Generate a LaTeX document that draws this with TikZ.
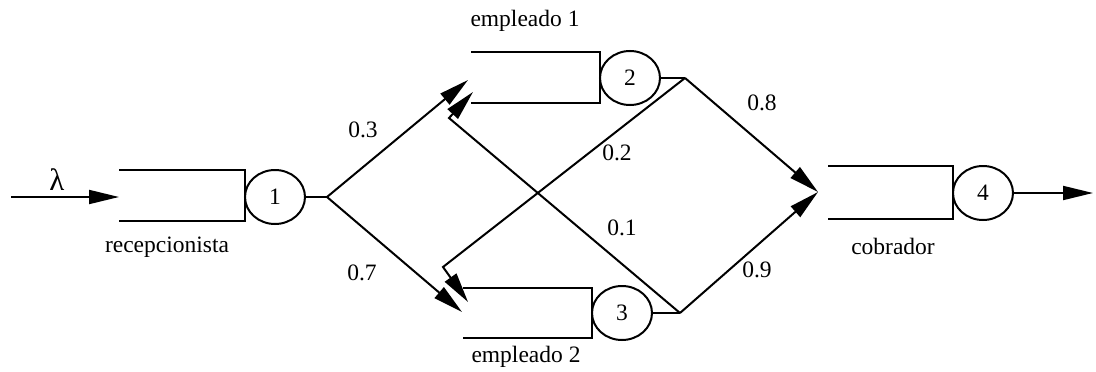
\documentclass[tikz,border=0pt]{standalone}
\usepackage{fontspec}
\setmainfont{Liberation Serif}
\usetikzlibrary{arrows.meta,shapes.geometric}
\begin{document}
\begin{tikzpicture}[x=1pt,y=-1pt,
  line width=2pt,
  queue/.style={line join=miter},
  server/.style={draw,ellipse,minimum width=60pt,minimum height=54pt,inner sep=0pt},
  lbl/.style={inner sep=0pt,font=\fontsize{23.5}{28}\selectfont},
  arr/.style={-{Triangle[length=30pt,width=14pt]}},
  link/.style={line join=miter}]
\useasboundingbox (0,0) rectangle (1096,372);

% waiting lines (open boxes)
\draw[queue] (119,170) -| (245,221) -- (119,221);
\draw[queue] (471,52) -| (600,103) -- (471,103);
\draw[queue] (463,288) -| (592,338) -- (463,338);
\draw[queue] (828,166) -| (953,219) -- (828,219);

% service stations
\node[server,lbl] (s1) at (275,197) {1};
\node[server,lbl] (s2) at (630,78) {2};
\node[server,lbl] (s3) at (622,313) {3};
\node[server,lbl] (s4) at (983,193) {4};

% routing points
\coordinate (src) at (11,197);
\coordinate (q1in) at (119,197);
\coordinate (f1) at (327,197);
\coordinate (t2a) at (468,80);
\coordinate (t2b) at (473,92);
\coordinate (t3a) at (462,312);
\coordinate (t3b) at (468,302);
\coordinate (j2) at (685,78);
\coordinate (b2) at (443,267);
\coordinate (j3) at (680,313);
\coordinate (b3) at (449,118);
\coordinate (t4) at (818,192);
\coordinate (out) at (1093,193);

% arrivals
\draw[arr] (src) -- (q1in);
\node[lbl,font=\fontsize{31}{36}\selectfont] (lam) at (57,180) {λ};

% routing from the reception desk
\draw (s1.east) -- (f1);
\draw[arr] (f1) -- (t2a);
\draw[arr] (f1) -- (t3a);

% routing from clerk 1
\draw (s2.east) -- (j2);
\draw[arr,link] (j2) -- (b2) -- (t3b);
\draw[arr] (j2) -- (t4);

% routing from clerk 2
\draw (s3.east) -- (j3);
\draw[arr,link] (j3) -- (b3) -- (t2b);
\draw[arr] (j3) -- (t4);

% departures
\draw[arr] (s4.east) -- (out);

% station names
\node[lbl] (n1) at (167,247) {recepcionista};
\node[lbl] (n2) at (525,21) {empleado 1};
\node[lbl] (n3) at (526,357) {empleado 2};
\node[lbl] (n4) at (893,246) {cobrador};

% routing probabilities
\node[lbl] (p03) at (363,130) {0.3};
\node[lbl] (p07) at (362,273) {0.7};
\node[lbl] (p02) at (617,153) {0.2};
\node[lbl] (p01) at (622,228) {0.1};
\node[lbl] (p08) at (762,103) {0.8};
\node[lbl] (p09) at (757,270) {0.9};
\end{tikzpicture}
\end{document}
